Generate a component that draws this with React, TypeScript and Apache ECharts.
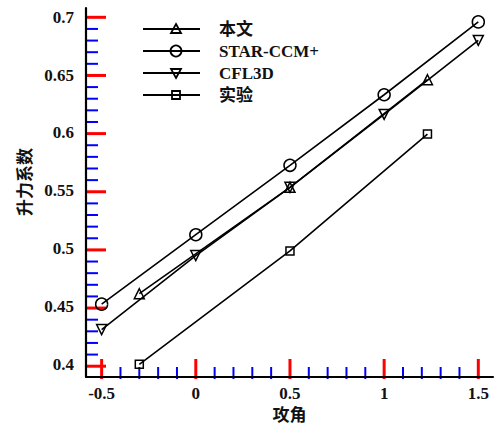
import React, { useEffect, useRef } from "react";
import * as echarts from "echarts";

const seriesNames = ["本文", "STAR-CCM+", "CFL3D", "实验"];
const benwenX = [-0.3, 0.5, 1.23];
const benwenY = [0.461, 0.553, 0.646];
const starX = [-0.5, 0, 0.5, 1, 1.5];
const starY = [0.452, 0.512, 0.572, 0.633, 0.696];
const cflX = [-0.5, 0, 0.5, 1, 1.5];
const cflY = [0.43, 0.494, 0.553, 0.616, 0.68];
const expX = [-0.3, 0.5, 1.23];
const expY = [0.4, 0.498, 0.599];

const xTicks = [-0.5, 0, 0.5, 1, 1.5];
const xMinorTicks: number[] = [];
for (let i = -4; i <= 14; i++) if (i % 5 !== 0) xMinorTicks.push(i / 10);
const yTicks = [0.4, 0.45, 0.5, 0.55, 0.6, 0.65, 0.7];
const yMinorTicks: number[] = [];
for (let i = 41; i <= 69; i++) if (i % 5 !== 0) yMinorTicks.push(i / 100);

const xName = "攻角";
const yName = "升力系数";

const FONT = "'Liberation Serif', 'Noto Sans CJK SC', serif";

const xMin = -0.583, xMax = 1.578, yMin = 0.389, yMax = 0.708;
const GRID = { left: 86, right: 4, top: 8, bottom: 50 };
const W = 497, H = 429;

function pairs(xs: number[], ys: number[]) {
  return xs.map((x, i) => [x, ys[i]]);
}

export default function App() {
  const ref = useRef<HTMLDivElement>(null);
  useEffect(() => {
    if (!ref.current) return;
    const chart = echarts.init(ref.current, null, { renderer: "svg" });
    const markerStyle = { color: "rgba(0,0,0,0)", borderColor: "#000", borderWidth: 1.5 };
    const lineStyle = { color: "#000", width: 1.6 };
    const mk = (name: string, data: number[][], symbol: string, size: number, rotate = 0) => ({
      name,
      type: "line",
      data,
      symbol,
      symbolSize: size,
      symbolRotate: rotate,
      showAllSymbol: true,
      itemStyle: markerStyle,
      lineStyle,
      z: 3,
    });
    const plotW = W - GRID.left - GRID.right;
    const plotH = H - GRID.top - GRID.bottom;
    const xp = (v: number) => GRID.left + ((v - xMin) / (xMax - xMin)) * plotW;
    const yp = (v: number) => GRID.top + ((yMax - v) / (yMax - yMin)) * plotH;
    const axisY = H - GRID.bottom;
    const axisX = GRID.left;

    const graphics: any[] = [];
    // test: ticks as rects (red, big) for diagnosis
    xTicks.forEach((v) => {
      graphics.push({ type: "rect", shape: { x: xp(v) - 1.5, y: axisY - 20, width: 3, height: 20 }, style: { fill: "#f00" } });
    });
    yTicks.forEach((v) => {
      graphics.push({ type: "rect", shape: { x: axisX, y: yp(v) - 1.5, width: 20, height: 3 }, style: { fill: "#f00" } });
    });
    xMinorTicks.forEach((v) => {
      graphics.push({ type: "line", shape: { x1: xp(v), y1: axisY, x2: xp(v), y2: axisY - 12 }, style: { stroke: "#00f", lineWidth: 2 } });
    });
    yMinorTicks.forEach((v) => {
      graphics.push({ type: "line", shape: { x1: axisX, y1: yp(v), x2: axisX + 12, y2: yp(v) }, style: { stroke: "#00f", lineWidth: 2 } });
    });

    const legendRowsY = [29, 51, 73, 95];
    legendRowsY.forEach((y, i) => {
      graphics.push({
        type: "line",
        shape: { x1: 143, y1: y, x2: 200, y2: y },
        style: { stroke: "#000", lineWidth: 2 },
      });
      const ms = { fill: "rgba(0,0,0,0)", stroke: "#000", lineWidth: 1.8 };
      if (i === 0) {
        graphics.push({ type: "polygon", shape: { points: [[176, y - 5], [181, y + 4], [171, y + 4]] }, style: ms });
      } else if (i === 1) {
        graphics.push({ type: "circle", shape: { cx: 176, cy: y, r: 5.5 }, style: ms });
      } else if (i === 2) {
        graphics.push({ type: "polygon", shape: { points: [[176, y + 5], [181, y - 4], [171, y - 4]] }, style: ms });
      } else {
        graphics.push({ type: "rect", shape: { x: 172, y: y - 4, width: 8, height: 8 }, style: ms });
      }
      graphics.push({
        type: "text",
        x: 219,
        y: y,
        style: {
          text: seriesNames[i],
          font: `bold 17px ${FONT}`,
          fill: "#111",
          textAlign: "left",
          textVerticalAlign: "middle",
        },
      });
    });
    graphics.push({
      type: "text",
      x: 25,
      y: 182,
      rotation: Math.PI / 2,
      style: {
        text: yName,
        font: `bold 17px ${FONT}`,
        fill: "#111",
        textAlign: "center",
        textVerticalAlign: "middle",
      },
    });

    chart.setOption({
      animation: false,
      backgroundColor: "#fff",
      grid: { ...GRID, containLabel: false },
      graphic: graphics,
      xAxis: {
        type: "value",
        min: xMin,
        max: xMax,
        name: xName,
        nameLocation: "middle",
        nameGap: 30,
        nameTextStyle: { fontFamily: FONT, fontSize: 17, fontWeight: "bold", color: "#111" },
        axisLine: { show: true, onZero: false, lineStyle: { color: "#000", width: 2.2 } },
        axisTick: { show: false },
        axisLabel: { customValues: xTicks, margin: 8, fontFamily: FONT, fontSize: 17, fontWeight: "bold", color: "#111" },
        splitLine: { show: false },
      },
      yAxis: {
        type: "value",
        min: yMin,
        max: yMax,
        axisLine: { show: true, onZero: false, lineStyle: { color: "#000", width: 2.2 } },
        axisTick: { show: false },
        axisLabel: { customValues: yTicks, margin: 12, fontFamily: FONT, fontSize: 17, fontWeight: "bold", color: "#111" },
        splitLine: { show: false },
      },
      series: [
        mk(seriesNames[0], pairs(benwenX, benwenY), "triangle", 10),
        mk(seriesNames[1], pairs(starX, starY), "circle", 12),
        mk(seriesNames[2], pairs(cflX, cflY), "triangle", 10, 180),
        mk(seriesNames[3], pairs(expX, expY), "rect", 8),
      ],
    });
    return () => chart.dispose();
  }, []);
  return (
    <div
      ref={ref}
      style={{ position: "fixed", left: 0, top: 0, width: 497, height: 429, background: "#fff" }}
    />
  );
}
